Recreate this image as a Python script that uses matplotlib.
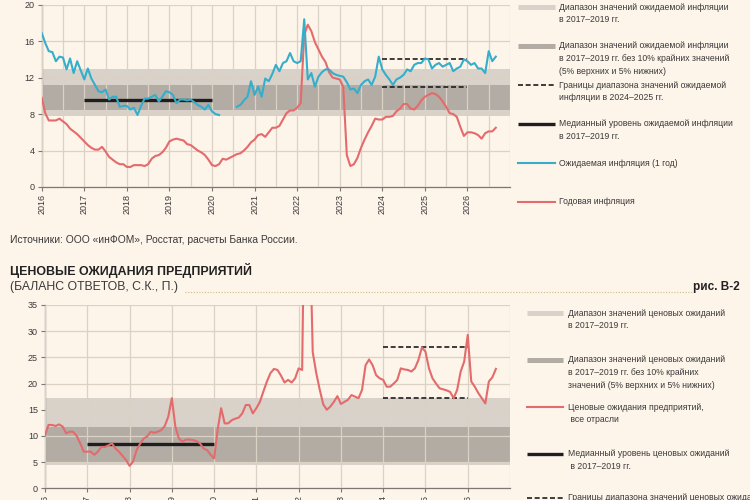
import matplotlib
matplotlib.use('Agg')
import matplotlib.pyplot as plt
from matplotlib.lines import Line2D
from matplotlib import font_manager

# ---- data ----
YEARS = list(range(2016, 2027))
YEAR_LABELS = [str(y) for y in YEARS]

# expected inflation (inFOM, 1 year), monthly, 2016-01 .. 2020-03
expect_infl_a = [16.9, 15.8, 14.9, 14.8, 13.8, 14.3, 14.2, 12.9, 14.1, 12.5, 13.8, 12.8,
                 11.8, 13.0, 11.9, 11.2, 10.5, 10.4, 10.7, 9.6, 9.9, 9.9, 8.8, 8.9,
                 8.9, 8.5, 8.7, 7.9, 8.9, 9.7, 9.7, 9.9, 10.1, 9.4, 9.9, 10.5,
                 10.4, 10.1, 9.2, 9.6, 9.6, 9.5, 9.6, 9.3, 9.0, 8.8, 8.5, 9.0,
                 8.3, 8.0, 7.9]
# expected inflation, monthly, 2020-08 .. 2026-09
expect_infl_b = [8.8, 9.0, 9.5, 9.9, 11.6,
                 10.1, 11.0, 9.9, 11.9, 11.6, 12.4, 13.4, 12.7, 13.6, 13.8, 14.7, 13.8,
                 13.6, 13.8, 18.4, 11.8, 12.5, 11.0, 12.1, 12.6, 12.9, 12.9, 12.5, 12.3,
                 12.2, 12.1, 11.5, 10.7, 10.8, 10.3, 11.2, 11.6, 11.8, 11.2, 12.1, 14.3,
                 12.9, 12.3, 11.8, 11.2, 11.8, 12.0, 12.3, 12.9, 12.7, 13.4, 13.6, 13.6,
                 14.1, 14.0, 13.0, 13.4, 13.6, 13.2, 13.4, 13.6, 12.7, 13.0, 13.2, 14.0,
                 13.8, 13.4, 13.6, 13.0, 13.0, 12.5, 14.9, 13.8, 14.3]
# annual inflation, monthly, 2016-01 .. 2026-09
annual_infl = [9.8, 8.1, 7.3, 7.3, 7.3, 7.5, 7.2, 6.9, 6.4, 6.1, 5.8, 5.4,
               5.0, 4.6, 4.3, 4.1, 4.1, 4.4, 3.9, 3.3, 3.0, 2.7, 2.5, 2.5,
               2.2, 2.2, 2.4, 2.4, 2.4, 2.3, 2.5, 3.1, 3.4, 3.5, 3.8, 4.3,
               5.0, 5.2, 5.3, 5.2, 5.1, 4.7, 4.6, 4.3, 4.0, 3.8, 3.5, 3.0,
               2.4, 2.3, 2.5, 3.1, 3.0, 3.2, 3.4, 3.6, 3.7, 4.0, 4.4, 4.9,
               5.2, 5.7, 5.8, 5.5, 6.0, 6.5, 6.5, 6.7, 7.4, 8.1, 8.4, 8.4,
               8.7, 9.2, 16.7, 17.8, 17.1, 15.9, 15.1, 14.3, 13.7, 12.6, 12.0, 11.9,
               11.8, 11.0, 3.5, 2.3, 2.5, 3.2, 4.3, 5.2, 6.0, 6.7, 7.5, 7.4,
               7.4, 7.7, 7.7, 7.8, 8.3, 8.6, 9.1, 9.1, 8.6, 8.5, 8.9, 9.5,
               9.9, 10.1, 10.3, 10.2, 9.9, 9.4, 8.8, 8.1, 8.0, 7.7, 6.6, 5.6,
               6.0, 6.0, 5.9, 5.7, 5.3, 5.9, 6.1, 6.1, 6.5]
# business price expectations, all sectors, monthly, 2016-01 .. 2026-09
biz_expect = [10.2, 12.1, 12.1, 11.9, 12.2, 11.8, 10.5, 10.8, 10.8, 10.0, 8.6, 7.0,
              7.0, 7.0, 6.4, 7.0, 7.9, 7.9, 8.2, 8.6, 7.6, 7.0, 6.2, 5.4,
              4.3, 5.1, 7.3, 8.5, 9.5, 9.9, 10.8, 10.6, 10.8, 11.1, 11.9, 13.7,
              17.2, 11.8, 9.5, 8.9, 9.3, 9.3, 9.2, 9.0, 8.6, 7.6, 7.3, 6.4,
              5.7, 11.1, 15.3, 12.4, 12.4, 13.0, 13.3, 13.5, 14.3, 15.9, 15.9, 14.3,
              15.3, 16.5, 18.5, 20.4, 22.0, 22.8, 22.6, 21.5, 20.2, 20.7, 20.2, 21.0,
              22.9, 22.6, 75.0, 55.0, 26.0, 22.0, 18.8, 16.0, 15.0, 15.6, 16.5, 17.6,
              16.1, 16.5, 16.9, 17.8, 17.5, 17.2, 18.8, 23.5, 24.6, 23.5, 21.6, 21.0,
              20.7, 19.4, 19.4, 20.0, 20.7, 22.9, 22.7, 22.6, 22.3, 22.9, 24.5, 26.9,
              26.1, 22.9, 21.0, 20.0, 19.1, 18.9, 18.7, 18.4, 17.2, 18.8, 22.3, 24.2,
              29.3, 20.4, 19.4, 18.2, 17.2, 16.2, 20.4, 21.2, 22.8]

top_band_full = (7.8, 12.9)
top_band_core = (8.4, 11.2)
top_median = 9.5
top_bounds = (11.0, 14.0)

bot_band_full = (4.4, 17.3)
bot_band_core = (5.1, 11.8)
bot_median = 8.4
bot_bounds = (17.2, 27.0)

median_period = (2017, 2020)
bounds_period = (2024, 2026)

top_legend = [
    'Диапазон значений ожидаемой инфляции\nв 2017–2019 гг.',
    'Диапазон значений ожидаемой инфляции\nв 2017–2019 гг. без 10% крайних значений\n(5% верхних и 5% нижних)',
    'Границы диапазона значений ожидаемой\nинфляции в 2024–2025 гг.',
    'Медианный уровень ожидаемой инфляции\nв 2017–2019 гг.',
    'Ожидаемая инфляция (1 год)',
    'Годовая инфляция',
]
bot_legend = [
    'Диапазон значений ценовых ожиданий\nв 2017–2019 гг.',
    'Диапазон значений ценовых ожиданий\nв 2017–2019 гг. без 10% крайних\nзначений (5% верхних и 5% нижних)',
    'Ценовые ожидания предприятий,\n все отрасли',
    'Медианный уровень ценовых ожиданий\n в 2017–2019 гг.',
    'Границы диапазона значений ценовых ожиданий\nв 2024–2025 гг.',
]

# ---- style ----
BG = '#FDF4EA'
GRID = '#DBD1C5'
BAND_LIGHT = '#D8D2CA'
BAND_DARK = '#B2ACA5'
BLUE = '#35AECB'
RED = '#E36B6B'
DARK = '#1E1E1E'
TXT = '#3A3A3A'

names = {f.name for f in font_manager.fontManager.ttflist}
FONT = 'Liberation Sans Narrow' if 'Liberation Sans Narrow' in names else 'Liberation Sans'
plt.rcParams['font.family'] = [FONT, 'DejaVu Sans']


def months(start_year, start_month, n):
    return [start_year + (start_month - 1 + i) / 12 for i in range(n)]


def px(x, y):
    return x / 750, 1 - y / 500


def style_axis(ax, ymax, ystep, minor_x):
    ax.set_facecolor(BG)
    ax.set_xlim(2016, 2027)
    ax.set_ylim(0, ymax)
    ax.set_yticks(range(0, ymax + 1, ystep))
    ax.set_xticks(YEARS)
    ax.set_xticklabels(YEAR_LABELS, rotation=90)
    if minor_x:
        ax.set_xticks([y + 0.5 for y in YEARS], minor=True)
        ax.grid(True, which='minor', axis='x', color=GRID, lw=0.9, zorder=1.5)
        ax.tick_params(which='minor', length=0)
    ax.grid(True, which='major', color=GRID, lw=0.9, zorder=1.5)
    ax.axvline(2027, color=GRID, lw=0.9, zorder=1.5)
    for s in ['top', 'right']:
        ax.spines[s].set_visible(False)
    for s in ['left', 'bottom']:
        ax.spines[s].set_color('#7d7873')
        ax.spines[s].set_linewidth(0.9)
    ax.tick_params(which='major', length=3, width=0.8, color='#7d7873',
                   labelsize=6.5, labelcolor=TXT, pad=2)
    ax.set_axisbelow(False)


fig = plt.figure(figsize=(7.5, 5), dpi=100)
fig.patch.set_facecolor(BG)

# ---- top chart ----
ax1 = fig.add_axes([41.7 / 750, 1 - 187 / 500, (510 - 41.7) / 750, (187 - 4.7) / 500])
style_axis(ax1, 20, 4, True)
ax1.axhspan(*top_band_full, color=BAND_LIGHT, lw=0, zorder=1)
ax1.axhspan(*top_band_core, color=BAND_DARK, lw=0, zorder=1.2)
ax1.plot(median_period, [top_median] * 2, color=DARK, lw=2.4, zorder=3, solid_capstyle='butt')
for v in top_bounds:
    ax1.plot(bounds_period, [v, v], color=DARK, lw=1.2, ls=(0, (3, 1.6)), zorder=3)
ax1.plot(months(2016, 1, len(annual_infl)), annual_infl, color=RED, lw=1.5, zorder=4)
ax1.plot(months(2016, 1, len(expect_infl_a)), expect_infl_a, color=BLUE, lw=1.5, zorder=5)
ax1.plot(months(2020, 8, len(expect_infl_b)), expect_infl_b, color=BLUE, lw=1.5, zorder=5)

# ---- bottom chart ----
ax2 = fig.add_axes([45 / 750, 1 - 488.3 / 500, (510 - 45) / 750, (488.3 - 305) / 500])
style_axis(ax2, 35, 5, False)
ax2.axhspan(*bot_band_full, color=BAND_LIGHT, lw=0, zorder=1)
ax2.axhspan(*bot_band_core, color=BAND_DARK, lw=0, zorder=1.2)
ax2.plot(median_period, [bot_median] * 2, color=DARK, lw=2.4, zorder=3, solid_capstyle='butt')
for v in bot_bounds:
    ax2.plot(bounds_period, [v, v], color=DARK, lw=1.2, ls=(0, (3, 1.6)), zorder=3)
ax2.plot(months(2016, 1, len(biz_expect)), biz_expect, color=RED, lw=1.5, zorder=4)

# ---- legends (drawn in figure pixels) ----
def legend_item(x0, x1, y, tx, label, kind):
    a, b = px(x0, y), px(x1, y)
    if kind == 'light':
        kw = dict(color=BAND_LIGHT, lw=3.6, solid_capstyle='butt')
    elif kind == 'dark':
        kw = dict(color=BAND_DARK, lw=3.6, solid_capstyle='butt')
    elif kind == 'dash':
        kw = dict(color=DARK, lw=1.2, ls=(0, (3, 1.6)))
    elif kind == 'median':
        kw = dict(color=DARK, lw=2.4, solid_capstyle='butt')
    elif kind == 'blue':
        kw = dict(color=BLUE, lw=1.5)
    else:
        kw = dict(color=RED, lw=1.5)
    fig.add_artist(Line2D([a[0], b[0]], [a[1], b[1]], transform=fig.transFigure, **kw))
    fig.text(*px(tx, y - 4.5), label, fontsize=6.2, color=TXT, va='top', ha='left',
             linespacing=1.55)


top_kinds = ['light', 'dark', 'dash', 'median', 'blue', 'red']
top_ys = [7, 46, 85, 124, 163, 202]
for lab, k, y in zip(top_legend, top_kinds, top_ys):
    legend_item(518, 555, y, 559, lab, k)

bot_kinds = ['light', 'dark', 'red', 'median', 'dash']
bot_ys = [313, 360, 407, 454, 498]
for lab, k, y in zip(bot_legend, bot_kinds, bot_ys):
    legend_item(527, 563, y, 568, lab, k)

# ---- texts between the charts ----
fig.text(*px(10, 240), 'Источники: ООО «инФОМ», Росстат, расчеты Банка России.',
         fontsize=7.4, color=TXT, va='center')
fig.text(*px(10, 270), 'ЦЕНОВЫЕ ОЖИДАНИЯ ПРЕДПРИЯТИЙ', fontsize=8.9, fontweight='bold',
         color='#222222', va='center')
fig.text(*px(10, 287), '(БАЛАНС ОТВЕТОВ, С.К., П.)', fontsize=8.8, color=TXT, va='center')
fig.text(*px(740, 287), 'рис. В-2', fontsize=8.5, fontweight='bold', color='#222222',
         va='center', ha='right')
l0, l1 = px(185, 292), px(692, 292)
fig.add_artist(Line2D([l0[0], l1[0]], [l0[1], l1[1]], transform=fig.transFigure,
                      color='#D2BC86', lw=0.8, ls=(0, (1, 1.5))))

fig.savefig('out.png', dpi=100, facecolor=BG)
